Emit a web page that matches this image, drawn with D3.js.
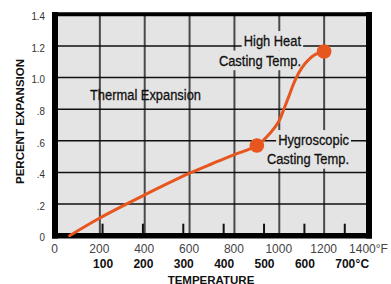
<!DOCTYPE html>
<html>
<head>
<meta charset="utf-8">
<script src="https://cdn.jsdelivr.net/npm/d3@7"></script>
<style>
  body { margin: 0; background: #fff; }
  svg { display: block; font-family: "Liberation Sans", Arial, sans-serif; }
</style>
</head>
<body>
<div id="grafica"></div>
<script>
// Datos (temperatura en °F, expansión en %)
var tempF = [65, 200, 400, 600, 700, 800, 900, 960, 997, 1019, 1042, 1064, 1086, 1116, 1153, 1200]
var expansion = [0, 0.112, 0.258, 0.395, 0.455, 0.512, 0.57, 0.65, 0.72, 0.795, 0.879, 0.962, 1.027, 1.09, 1.14, 1.165]

// puntos marcados
var puntosF = [900, 1200]
var puntosExp = [0.57, 1.165]

var ticksY = [0, 0.2, 0.4, 0.6, 0.8, 1.0, 1.2, 1.4]
var etiquetasY = ["0", ".2", ".4", ".6", ".8", "1.0", "1.2", "1.4"]
var ticksF = [0, 200, 400, 600, 800, 1000, 1200, 1400]
var ticksC = [100, 200, 300, 400, 500, 600, 700]

var notaAlta = ["High Heat", "Casting Temp."]
var notaHigro = ["Hygroscopic", "Casting Temp."]

var width = 391
var height = 284
var estrecho = 0.86   // la fuente original es condensada

var x = d3.scaleLinear().domain([0, 1400]).range([55, 369])
var y = d3.scaleLinear().domain([0, 1.4]).range([235.7, 14.3])
var fToC = c => c * 9 / 5 + 32

var naranja = "#e8561f"
var fondo = "#e4e4e4"

var svg = d3.select("#grafica")
    .append("svg")
    .attr("width", width)
    .attr("height", height)

// fondo del área del gráfico
svg.append("rect")
    .attr("x", x(0)).attr("y", y(1.4))
    .attr("width", x(1400) - x(0))
    .attr("height", y(0) - y(1.4))
    .attr("fill", fondo)

// rejilla vertical
svg.append("g")
    .selectAll("line")
    .data(ticksF.slice(1, -1))
    .join("line")
    .attr("x1", d => x(d)).attr("x2", d => x(d))
    .attr("y1", y(1.4)).attr("y2", y(0))
    .attr("stroke", "#4a4a4a")
    .attr("stroke-width", 2)

// rejilla horizontal
svg.append("g")
    .selectAll("line")
    .data(ticksY.slice(1, -1))
    .join("line")
    .attr("x1", x(0)).attr("x2", x(1400))
    .attr("y1", d => y(d)).attr("y2", d => y(d))
    .attr("stroke", "#111")
    .attr("stroke-width", 1.5)

// marcas de °C dentro del gráfico
svg.append("g")
    .selectAll("line")
    .data(ticksC)
    .join("line")
    .attr("x1", d => x(fToC(d))).attr("x2", d => x(fToC(d)))
    .attr("y1", y(0) - 12).attr("y2", y(0))
    .attr("stroke", "#111")
    .attr("stroke-width", 2)

// texto condensado
function textoEstrecho(g, t, px, py, ancla) {
    return g.append("text")
        .attr("transform", "translate(" + px + "," + py + ") scale(" + estrecho + ",1)")
        .attr("text-anchor", ancla)
        .attr("font-size", 15)
        .attr("fill", "#111")
        .attr("stroke", "#111")
        .attr("stroke-width", 0.3)
        .text(t)
}

// textos con fondo que tapa la rejilla
function nota(lineas, xDer, yBase, salto) {
    var g = svg.append("g")
    lineas.forEach(function (t, i) {
        var py = yBase + i * salto
        var txt = textoEstrecho(g, t, xDer, py, "end")
        var b = txt.node().getBBox()
        g.insert("rect", "text")
            .attr("x", xDer + b.x * estrecho - 2).attr("y", py + b.y - 1)
            .attr("width", b.width * estrecho + 4).attr("height", b.height + 2.5)
            .attr("fill", fondo)
    })
}
nota(notaAlta, 301, 46, 19.5)
nota(notaHigro, 349, 145, 19)

textoEstrecho(svg, "Thermal Expansion", 90, 100, "start")

// marco
var marco = svg.append("g").attr("stroke", "#000")
marco.append("line").attr("x1", 52).attr("x2", 372).attr("y1", y(1.4)).attr("y2", y(1.4)).attr("stroke-width", 4)
marco.append("line").attr("x1", 52).attr("x2", 372).attr("y1", y(0)).attr("y2", y(0)).attr("stroke-width", 5.5)
marco.append("line").attr("x1", x(0)).attr("x2", x(0)).attr("y1", 12).attr("y2", 238.5).attr("stroke-width", 6)
marco.append("line").attr("x1", x(1400)).attr("x2", x(1400)).attr("y1", 12).attr("y2", 238.5).attr("stroke-width", 6)

// curva
var linea = d3.line()
    .x((d, i) => x(tempF[i]))
    .y((d, i) => y(expansion[i]))
    .curve(d3.curveCatmullRom.alpha(0.5))

svg.append("path")
    .datum(expansion)
    .attr("d", linea)
    .attr("fill", "none")
    .attr("stroke", naranja)
    .attr("stroke-width", 3)
    .attr("stroke-linecap", "round")

svg.append("g")
    .selectAll("circle")
    .data(puntosF)
    .join("circle")
    .attr("cx", d => x(d))
    .attr("cy", (d, i) => y(puntosExp[i]))
    .attr("r", 7.3)
    .attr("fill", naranja)

// eje Y
var yAxis = svg.append("g")
    .attr("transform", "translate(" + x(0) + ",1.5)")
    .call(d3.axisLeft(y).tickValues(ticksY).tickFormat((d, i) => etiquetasY[i]).tickSize(0).tickPadding(10))
yAxis.select(".domain").remove()
yAxis.selectAll("text")
    .attr("font-family", null)
    .attr("font-size", 11.5)
    .attr("fill", "#333")
    .attr("x", -10 / 0.85)
    .attr("transform", "scale(0.85,1)")

// eje °F (la unidad va en la última etiqueta)
var xAxisF = svg.append("g")
    .attr("transform", "translate(-1,244.5)")
    .call(d3.axisBottom(x).tickValues(ticksF)
        .tickFormat((d, i) => i == ticksF.length - 1 ? d + "°F" : d)
        .tickSize(0).tickPadding(0))
xAxisF.select(".domain").remove()
xAxisF.selectAll("text")
    .attr("font-family", null)
    .attr("font-size", 12)
    .attr("fill", "#444")
    .attr("y", 0)
    .attr("dy", "0.71em")

// eje °C
var xAxisC = svg.append("g")
    .attr("transform", "translate(0,259.5)")
    .call(d3.axisBottom(x).tickValues(ticksC.map(fToC)).tickFormat((d, i) => ticksC[i]).tickSize(0).tickPadding(0))
xAxisC.select(".domain").remove()
xAxisC.selectAll("text")
    .attr("font-family", null)
    .attr("font-size", 12)
    .attr("font-weight", "bold")
    .attr("fill", "#111")
    .attr("y", 0)
    .attr("dy", "0.71em")

// °C después del último número
var ultimaC = xAxisC.selectAll(".tick").filter((d, i, n) => i == n.length - 1)
var bC = ultimaC.select("text").node().getBBox()
ultimaC.append("text")
    .attr("x", bC.x + bC.width)
    .attr("dy", "0.71em")
    .attr("text-anchor", "start")
    .attr("font-size", 12)
    .attr("font-weight", "bold")
    .attr("fill", "#111")
    .text("°C")

// títulos de ejes
svg.append("text")
    .attr("x", 211).attr("y", 283.5)
    .attr("text-anchor", "middle")
    .attr("font-size", 11.5)
    .attr("font-weight", "bold")
    .attr("fill", "#111")
    .text("TEMPERATURE")

svg.append("text")
    .attr("transform", "translate(23.5,121.5)rotate(-90)")
    .attr("text-anchor", "middle")
    .attr("font-size", 11.5)
    .attr("font-weight", "bold")
    .attr("fill", "#111")
    .text("PERCENT EXPANSION")
</script>
</body>
</html>
